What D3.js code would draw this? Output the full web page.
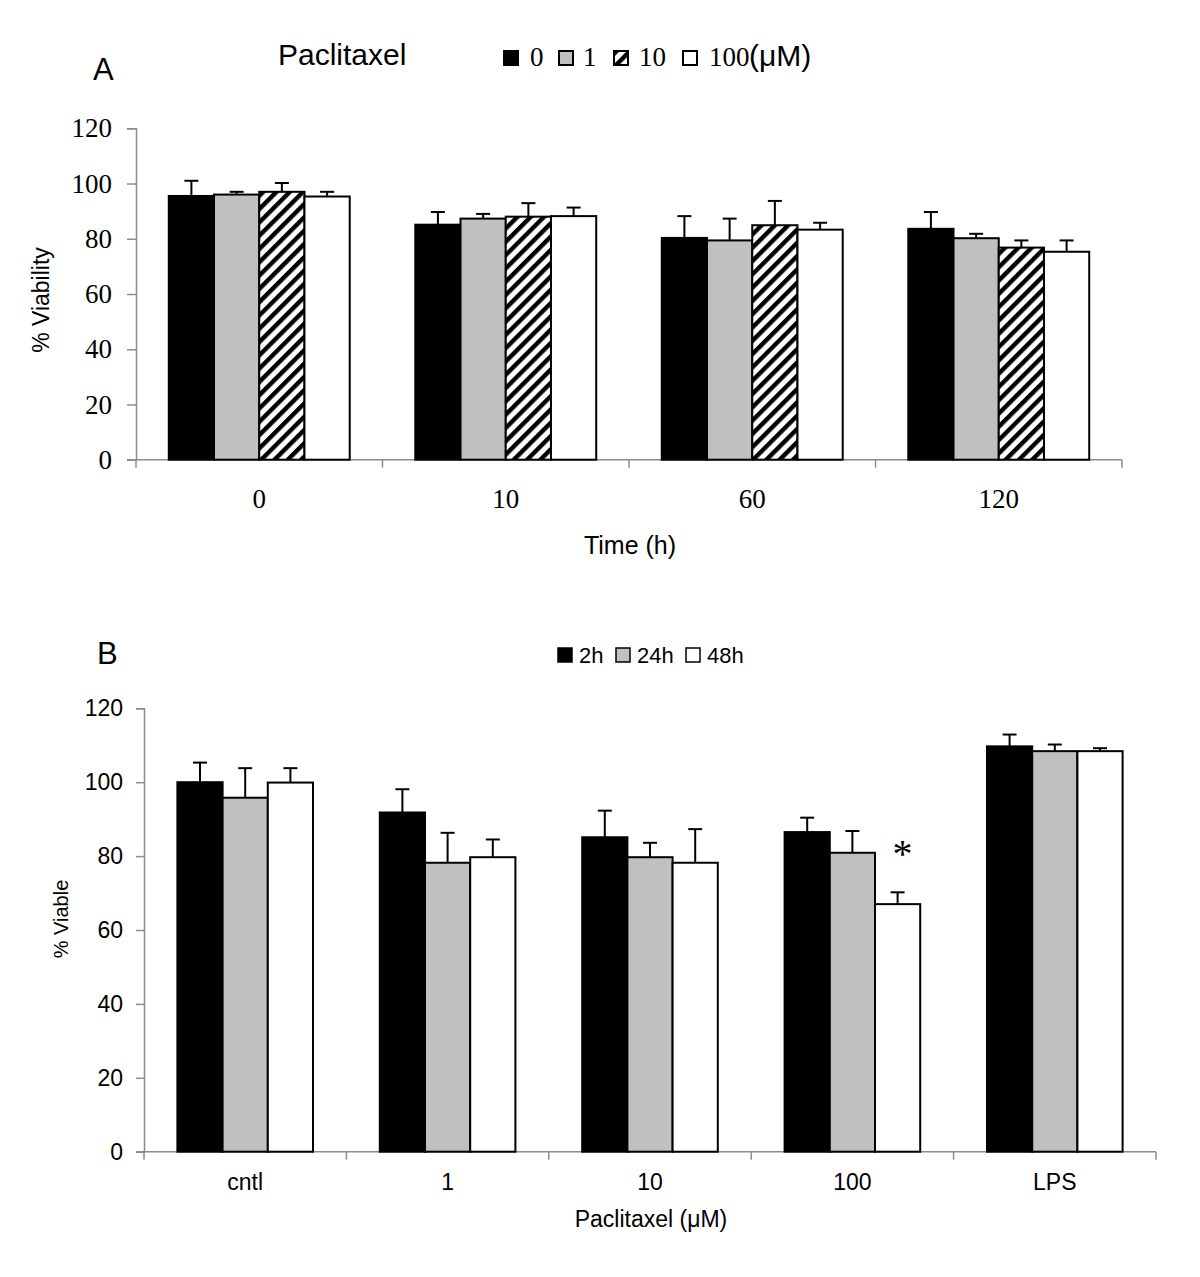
<!DOCTYPE html>
<html>
<head>
<meta charset="utf-8">
<script src="https://cdn.jsdelivr.net/npm/d3@7"></script>
<style>
  html, body { margin: 0; padding: 0; background: #fff; }
  svg { display: block; }
</style>
</head>
<body>
<script>
// ---------- Panel A data ----------
const catsA = ["0", "10", "60", "120"];
const seriesA = ["0", "1", "10", "100"];
const meanA0 = [95.5, 85.1, 80.3, 83.6];
const meanA1 = [96.0, 87.3, 79.4, 80.2];
const meanA10 = [97.0, 88.0, 84.9, 76.8];
const meanA100 = [95.3, 88.2, 83.3, 75.3];
const errA0 = [5.5, 4.6, 7.9, 6.1];
const errA1 = [1.0, 1.7, 7.9, 1.6];
const errA10 = [3.2, 4.9, 8.8, 2.6];
const errA100 = [1.7, 3.1, 2.5, 4.1];
const ticksA = [0, 20, 40, 60, 80, 100, 120];

// ---------- Panel B data ----------
const catsB = ["cntl", "1", "10", "100", "LPS"];
const seriesB = ["2h", "24h", "48h"];
const meanB2 = [100.0, 91.8, 85.1, 86.5, 109.7];
const meanB24 = [95.8, 78.2, 79.7, 80.9, 108.4];
const meanB48 = [99.9, 79.7, 78.2, 67.0, 108.4];
const errB2 = [5.3, 6.3, 7.2, 3.9, 3.2];
const errB24 = [8.0, 8.1, 3.9, 5.9, 1.8];
const errB48 = [3.9, 4.8, 9.1, 3.2, 0.8];
const ticksB = [0, 20, 40, 60, 80, 100, 120];
const starB = { cat: "100", series: "48h" };

const SERIF = "'Liberation Serif','Times New Roman',serif";
const SANS = "'Liberation Sans',Arial,Helvetica,sans-serif";
const AXIS_GRAY = "#8c8c8c";

const svg = d3.select("body").append("svg")
  .attr("width", 1200).attr("height", 1277);

const defs = svg.append("defs");
const pat = defs.append("pattern")
  .attr("id", "hatch")
  .attr("patternUnits", "userSpaceOnUse")
  .attr("width", 9.4).attr("height", 9.4)
  .attr("patternTransform", "rotate(45)");
pat.append("rect").attr("width", 9.4).attr("height", 9.4).attr("fill", "#fff");
pat.append("rect").attr("width", 4.4).attr("height", 9.4).attr("fill", "#000");

const fillsA = ["#000000", "#c0c0c0", "url(#hatch)", "#ffffff"];
const fillsB = ["#000000", "#c0c0c0", "#ffffff"];

function buildRows(cats, series, means, errs) {
  const rows = [];
  series.forEach((s, si) => {
    cats.forEach((c, ci) => {
      rows.push({ cat: c, series: s, si: si, v: means[si][ci], e: errs[si][ci] });
    });
  });
  return rows;
}

function drawPanel(cfg) {
  const g = svg.append("g");
  const x = d3.scaleBand().domain(cfg.cats).range([cfg.x0, cfg.x1]).padding(0);
  const y = d3.scaleLinear().domain([0, 120]).range([cfg.yBottom, cfg.yTop]);
  const bw = x.bandwidth();
  const groupW = bw * cfg.groupFrac;
  const xi = d3.scaleBand().domain(cfg.series).range([(bw - groupW) / 2, (bw + groupW) / 2]).padding(0);

  // y axis
  const yAxis = g.append("g")
    .attr("transform", `translate(${cfg.x0},0)`)
    .call(d3.axisLeft(y).tickValues(cfg.ticks).tickSize(cfg.yTick).tickPadding(cfg.yPad).tickFormat(d3.format("d")));
  yAxis.select(".domain").attr("stroke", AXIS_GRAY).attr("stroke-width", 1.5);
  yAxis.selectAll(".tick line").attr("stroke", AXIS_GRAY).attr("stroke-width", 1.5);
  yAxis.selectAll(".tick text")
    .attr("font-family", cfg.tickFont).attr("font-size", cfg.yFontSize).attr("fill", "#000");

  // x axis line
  g.append("line")
    .attr("x1", cfg.x0 - cfg.yTick).attr("x2", cfg.x1)
    .attr("y1", cfg.yBottom).attr("y2", cfg.yBottom)
    .attr("stroke", AXIS_GRAY).attr("stroke-width", 1.5);
  // category boundary ticks
  const bounds = cfg.cats.map(c => x(c)).concat([cfg.x1]);
  g.selectAll(".bt").data(bounds).enter().append("line")
    .attr("x1", d => d).attr("x2", d => d)
    .attr("y1", cfg.yBottom).attr("y2", cfg.yBottom + 8)
    .attr("stroke", AXIS_GRAY).attr("stroke-width", 1.5);
  // category labels
  g.selectAll(".cl").data(cfg.cats).enter().append("text")
    .attr("x", d => x(d) + bw / 2)
    .attr("y", cfg.xLabelY)
    .attr("text-anchor", "middle")
    .attr("font-family", cfg.tickFont).attr("font-size", cfg.xFontSize)
    .text(d => d);

  const rows = buildRows(cfg.cats, cfg.series, cfg.means, cfg.errs);
  // error bars
  const eb = g.selectAll(".eb").data(rows).enter().append("g");
  eb.append("line")
    .attr("x1", d => x(d.cat) + xi(d.series) + xi.bandwidth() / 2)
    .attr("x2", d => x(d.cat) + xi(d.series) + xi.bandwidth() / 2)
    .attr("y1", d => y(d.v)).attr("y2", d => y(d.v + d.e))
    .attr("stroke", "#000").attr("stroke-width", 2);
  eb.append("line")
    .attr("x1", d => x(d.cat) + xi(d.series) + xi.bandwidth() / 2 - 7)
    .attr("x2", d => x(d.cat) + xi(d.series) + xi.bandwidth() / 2 + 7)
    .attr("y1", d => y(d.v + d.e)).attr("y2", d => y(d.v + d.e))
    .attr("stroke", "#000").attr("stroke-width", 2);
  // bars
  g.selectAll(".bar").data(rows).enter().append("rect")
    .attr("x", d => x(d.cat) + xi(d.series))
    .attr("width", xi.bandwidth())
    .attr("y", d => y(d.v))
    .attr("height", d => y(0) - y(d.v))
    .attr("fill", d => cfg.fills[d.si])
    .attr("stroke", "#000").attr("stroke-width", 2);

  return { x, y, xi, g };
}

// ---------- Panel A ----------
const pA = drawPanel({
  cats: catsA, series: seriesA,
  means: [meanA0, meanA1, meanA10, meanA100],
  errs: [errA0, errA1, errA10, errA100],
  fills: fillsA, ticks: ticksA,
  x0: 136, x1: 1122, yBottom: 459.7, yTop: 128.3,
  groupFrac: 0.734, yTick: 9, yPad: 15,
  tickFont: SERIF, yFontSize: 27, xFontSize: 27, xLabelY: 508
});

svg.append("text").attr("x", 93).attr("y", 80)
  .attr("font-family", SANS).attr("font-size", 31).text("A");
svg.append("text").attr("x", 278).attr("y", 65)
  .attr("font-family", SANS).attr("font-size", 30).text("Paclitaxel");
svg.append("text")
  .attr("transform", "translate(49,300) rotate(-90)")
  .attr("text-anchor", "middle")
  .attr("font-family", SANS).attr("font-size", 23).text("% Viability");
svg.append("text").attr("x", 630).attr("y", 554)
  .attr("text-anchor", "middle")
  .attr("font-family", SANS).attr("font-size", 25).text("Time (h)");

// legend A
const legAx = [504, 559, 614, 683];
const legAtx = [530, 583, 639, 709];
const legA = svg.append("g");
seriesA.forEach((s, i) => {
  legA.append("rect").attr("x", legAx[i]).attr("y", 51).attr("width", 14).attr("height", 14)
    .attr("fill", fillsA[i]).attr("stroke", "#000").attr("stroke-width", 2);
  legA.append("text").attr("x", legAtx[i]).attr("y", 66)
    .attr("font-family", SERIF).attr("font-size", 27).text(s);
});
legA.append("text").attr("x", 749).attr("y", 66)
  .attr("font-family", SANS).attr("font-size", 30).text("(\u03BCM)");

// ---------- Panel B ----------
const pB = drawPanel({
  cats: catsB, series: seriesB,
  means: [meanB2, meanB24, meanB48],
  errs: [errB2, errB24, errB48],
  fills: fillsB, ticks: ticksB,
  x0: 144, x1: 1156, yBottom: 1151.7, yTop: 708.3,
  groupFrac: 0.67, yTick: 8, yPad: 13,
  tickFont: SANS, yFontSize: 23, xFontSize: 23, xLabelY: 1190
});

// asterisk
{
  const si = seriesB.indexOf(starB.series);
  const ci = catsB.indexOf(starB.cat);
  const means = [meanB2, meanB24, meanB48];
  const cx = pB.x(starB.cat) + pB.xi(starB.series) + pB.xi.bandwidth() / 2 + 5;
  svg.append("text").attr("x", cx).attr("y", pB.y(means[si][ci]) - 37)
    .attr("text-anchor", "middle")
    .attr("font-family", SERIF).attr("font-size", 40).text("*");
}

svg.append("text").attr("x", 97).attr("y", 664)
  .attr("font-family", SANS).attr("font-size", 31).text("B");
svg.append("text")
  .attr("transform", "translate(68,919) rotate(-90)")
  .attr("text-anchor", "middle")
  .attr("font-family", SANS).attr("font-size", 20).text("% Viable");
svg.append("text").attr("x", 651).attr("y", 1227)
  .attr("text-anchor", "middle")
  .attr("font-family", SANS).attr("font-size", 23).text("Paclitaxel (\u03BCM)");

// legend B
const legBx = [558, 616, 686];
const legBtx = [579, 637, 707];
const legB = svg.append("g");
seriesB.forEach((s, i) => {
  legB.append("rect").attr("x", legBx[i]).attr("y", 648).attr("width", 14).attr("height", 14)
    .attr("fill", fillsB[i]).attr("stroke", "#000").attr("stroke-width", 1.5);
  legB.append("text").attr("x", legBtx[i]).attr("y", 663)
    .attr("font-family", SANS).attr("font-size", 22).text(s);
});
</script>
</body>
</html>
